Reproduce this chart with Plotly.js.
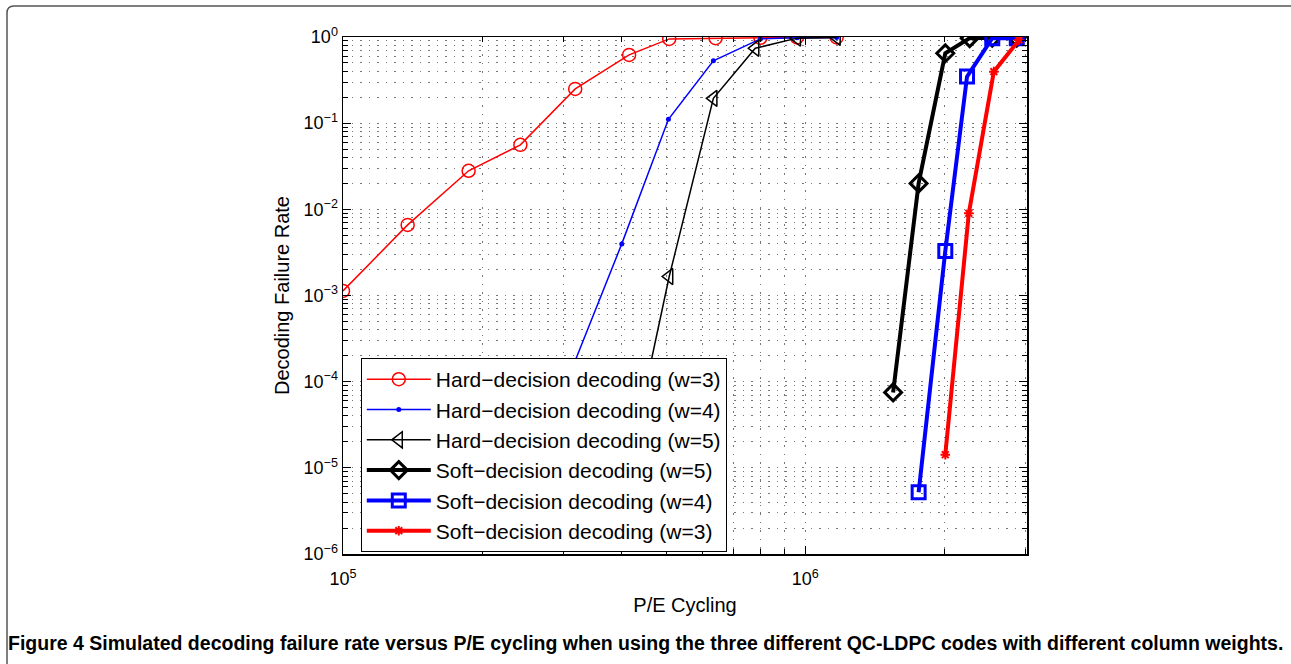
<!DOCTYPE html>
<html>
<head>
<meta charset="utf-8">
<script src="https://cdn.plot.ly/plotly-3.0.1.min.js"></script>
<style>
html,body{margin:0;padding:0;background:#fff;}
#chart{width:1291px;height:664px;}
</style>
</head>
<body>
<div id="chart"></div>
<script>
// ---- data ----
const hardW3_x = [1.0e5, 1.38e5, 1.87e5, 2.42e5, 3.18e5, 4.16e5, 5.08e5, 6.4e5, 8.0e5, 9.6e5, 1.17e6];
const hardW3_y = [1.13e-3, 6.6e-3, 2.8e-2, 5.6e-2, 0.25, 0.62, 0.95, 0.97, 0.98, 0.99, 0.99];

const hardW4_x = [3.0e5, 4.01e5, 5.06e5, 6.33e5, 8.0e5, 9.6e5, 1.17e6];
const hardW4_y = [8e-5, 3.97e-3, 0.111, 0.53, 0.95, 0.98, 0.99];

const hardW5_x = [4.2e5, 5.08e5, 6.33e5, 7.8e5, 9.6e5, 1.17e6];
const hardW5_y = [1.4e-5, 1.66e-3, 0.194, 0.74, 0.97, 0.99];

const softW5_x = [1.55e6, 1.76e6, 2.01e6, 2.27e6, 2.54e6, 2.87e6];
const softW5_y = [7.5e-5, 2.0e-2, 0.647, 0.97, 0.98, 0.98];

const softW4_x = [1.76e6, 2.01e6, 2.24e6, 2.54e6, 2.87e6];
const softW4_y = [5.2e-6, 3.29e-3, 0.347, 0.97, 0.97];

const softW3_x = [2.01e6, 2.26e6, 2.56e6, 2.9e6];
const softW3_y = [1.42e-5, 9.0e-3, 0.396, 0.92];

const seriesNames = [
  "Hard\u2212decision decoding (w=3)",
  "Hard\u2212decision decoding (w=4)",
  "Hard\u2212decision decoding (w=5)",
  "Soft\u2212decision decoding (w=5)",
  "Soft\u2212decision decoding (w=4)",
  "Soft\u2212decision decoding (w=3)"
];

const xTickVals = [1e5, 1e6];
const xTickText = ["10<sup>5</sup>", "10<sup>6</sup>"];
const yTickVals = [1e-6, 1e-5, 1e-4, 1e-3, 1e-2, 1e-1, 1];
const yTickText = ["10<sup>\u22126</sup>", "10<sup>\u22125</sup>", "10<sup>\u22124</sup>", "10<sup>\u22123</sup>", "10<sup>\u22122</sup>", "10<sup>\u22121</sup>", "10<sup>0</sup>"];

const xTitle = "P/E Cycling";
const yTitle = "Decoding Failure Rate";
const caption = "Figure 4 Simulated decoding failure rate versus P/E cycling when using the three different QC-LDPC codes with different column weights.";

// ---- traces ----
const RED = "#ff0000", BLUE = "#0000ff", BLACK = "#000000";
const traces = [
  {x: hardW3_x, y: hardW3_y, name: seriesNames[0], mode: "lines+markers",
   line: {color: RED, width: 1.5},
   marker: {symbol: "circle-open", size: 13, color: RED, line: {width: 1.5, color: RED}}},
  {x: hardW4_x, y: hardW4_y, name: seriesNames[1], mode: "lines+markers",
   line: {color: BLUE, width: 1.5},
   marker: {symbol: "circle", size: 5, color: BLUE}},
  {x: hardW5_x, y: hardW5_y, name: seriesNames[2], mode: "lines+markers",
   line: {color: BLACK, width: 1.5},
   marker: {symbol: "triangle-left-open", size: 14, color: BLACK, line: {width: 1.5, color: BLACK}}},
  {x: softW5_x, y: softW5_y, name: seriesNames[3], mode: "lines+markers",
   line: {color: BLACK, width: 4},
   marker: {symbol: "diamond-open", size: 13, color: BLACK, line: {width: 3, color: BLACK}}},
  {x: softW4_x, y: softW4_y, name: seriesNames[4], mode: "lines+markers",
   line: {color: BLUE, width: 4},
   marker: {symbol: "square-open", size: 13, color: BLUE, line: {width: 3, color: BLUE}}},
  {x: softW3_x, y: softW3_y, name: seriesNames[5], mode: "lines+markers",
   line: {color: RED, width: 4},
   marker: {symbol: "asterisk-open", size: 8, color: RED, line: {width: 2, color: RED}}}
];

const FONT = "Liberation Sans, Arial, sans-serif";
const axisFont = {family: FONT, size: 18, color: "#000"};
const gridDash = "1.5px,7px";
const gridCol = "#777";

const layout = {
  width: 1291, height: 664,
  margin: {l: 343, r: 264, t: 37, b: 110, pad: 0},
  paper_bgcolor: "#fff", plot_bgcolor: "#fff",
  showlegend: true,
  font: {family: FONT, color: "#000"},
  xaxis: {
    type: "log", range: [5, Math.log10(3.02e6)],
    tickmode: "array", tickvals: xTickVals, ticktext: xTickText,
    tickfont: axisFont, ticks: "inside", ticklen: 8, tickcolor: "#000", tickwidth: 1,
    ticklabelstandoff: 8,
    showline: true, linecolor: "#000", linewidth: 1.5, mirror: "allticks",
    showgrid: true, gridcolor: gridCol, gridwidth: 1, griddash: gridDash,
    minor: {tickvals: [2e5,3e5,4e5,5e5,6e5,7e5,8e5,9e5,2e6,3e6], ticks: "inside", ticklen: 5, tickcolor: "#000",
            showgrid: true, gridcolor: gridCol, gridwidth: 1, griddash: gridDash},
    zeroline: false,
    title: {text: xTitle, font: {family: FONT, size: 20, color: "#000"}, standoff: 10},
    automargin: false
  },
  yaxis: {
    type: "log", range: [-6, 0],
    tickmode: "array", tickvals: yTickVals, ticktext: yTickText,
    tickfont: axisFont, ticks: "inside", ticklen: 8, tickcolor: "#000", tickwidth: 1,
    showline: true, linecolor: "#000", linewidth: 1.5, mirror: "allticks",
    showgrid: true, gridcolor: gridCol, gridwidth: 1, griddash: gridDash,
    minor: {dtick: "D1", ticks: "inside", ticklen: 5, tickcolor: "#000",
            showgrid: true, gridcolor: gridCol, gridwidth: 1, griddash: gridDash},
    zeroline: false,
    title: {text: yTitle, font: {family: FONT, size: 20, color: "#000"}, standoff: 8},
    automargin: false
  },
  legend: {
    x: 0.026, y: 0.379, xanchor: "left", yanchor: "top",
    bgcolor: "#fff", bordercolor: "#000", borderwidth: 1,
    font: {family: FONT, size: 21, color: "#000"},
    itemwidth: 64, tracegroupgap: 0, traceorder: "normal"
  },
  annotations: [{
    xref: "paper", yref: "paper",
    x: (645 - 343) / 684, y: (554 - 643) / 517,
    xanchor: "center", yanchor: "middle", showarrow: false,
    text: "<b>" + caption + "</b>",
    font: {family: FONT, size: 19.5, color: "#000"}
  }],
  shapes: [{
    type: "path", xref: "paper", yref: "paper",
    path: "M " + ((7-343)/684) + "," + ((554-670)/517) +
          " L " + ((7-343)/684) + "," + ((554-13)/517) +
          " Q " + ((7-343)/684) + "," + ((554-6)/517) + " " + ((14-343)/684) + "," + ((554-6)/517) +
          " L " + ((1296-343)/684) + "," + ((554-6)/517),
    line: {color: "#555", width: 1.5}
  }]
};

Plotly.newPlot("chart", traces, layout, {displayModeBar: false, staticPlot: true});
</script>
</body>
</html>
